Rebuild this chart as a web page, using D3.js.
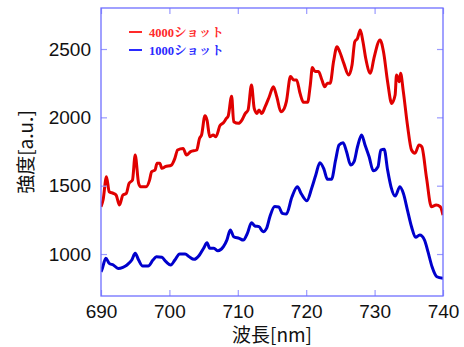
<!DOCTYPE html>
<html><head><meta charset="utf-8">
<script src="https://cdn.jsdelivr.net/npm/d3@7"></script>
<style>html,body{margin:0;padding:0;background:#fff;}</style>
</head><body>
<svg id="chart" width="464" height="347"></svg>
<script>
const xTicks = [690, 700, 710, 720, 730, 740];
const yTicks = [1000, 1500, 2000, 2500];
const seriesNames = ["4000ショット", "1000ショット"];
const xTitle = "波長[nm]";
const yTitle = "強度[a.u.]";

const redWavelength = [690,690.3,690.8,691.2,691.8,692.2,692.7,693.2,693.7,694.1,694.6,695.0,695.5,695.8,696.6,697.1,697.4,697.9,698.2,698.6,698.9,699.4,700.3,700.8,701.2,702.0,702.5,703.1,704.0,704.4,704.7,705.2,705.5,705.9,706.4,706.8,707.4,707.9,708.3,708.6,709.1,709.4,710.1,710.6,711.1,711.5,712.0,712.4,712.8,713.1,713.5,714.0,714.6,715.2,715.7,716.3,716.8,717.1,717.7,718.2,718.6,719.1,719.6,720.2,720.6,720.9,721.3,721.8,722.3,722.7,723.1,723.5,724.0,724.5,724.9,725.5,726.2,726.7,727.1,727.5,727.9,728.3,728.7,729.4,729.9,730.8,731.3,731.9,732.5,733.0,733.2,733.6,733.8,734.2,734.8,735.4,735.9,736.5,736.9,737.6,738.3,739.0,739.6,740];
const redIntensity = [1346,1395,1566,1456,1444,1432,1358,1432,1444,1517,1541,1724,1517,1492,1492,1541,1602,1615,1664,1664,1627,1639,1651,1700,1761,1773,1724,1749,1761,1846,1871,2012,1980,1858,1871,1858,1940,1960,1990,2010,2155,1968,1956,1980,2029,2054,2237,2066,2029,2054,2029,2078,2151,2224,2151,2041,2066,2115,2298,2273,2273,2176,2110,2110,2237,2364,2335,2335,2273,2224,2249,2249,2408,2517,2480,2395,2310,2383,2553,2578,2639,2553,2432,2322,2432,2566,2480,2261,2102,2163,2310,2261,2322,2188,1944,1761,1737,1798,1785,1554,1346,1358,1346,1285];

const blueWavelength = [690,690.2,690.7,691.2,691.8,692.5,693.2,693.8,694.5,695.0,695.5,696.1,696.9,697.6,698.1,698.9,699.5,700.2,700.8,701.5,702.3,702.9,703.6,704.4,705.0,705.5,705.9,706.5,707.1,707.9,708.4,708.9,709.4,710.2,710.8,711.4,712.0,712.5,713.1,713.7,714.2,714.7,715.4,716.0,716.5,717.1,717.9,718.7,719.3,720.1,720.8,721.4,722.0,722.6,723.1,723.7,724.3,724.8,725.4,725.9,726.5,727.0,727.5,728.1,728.6,729.2,729.8,730.5,730.9,731.4,731.9,732.4,733.0,733.7,734.2,734.8,735.4,736.0,736.6,737.3,737.8,738.4,739.1,740];
const blueIntensity = [870,895,969,932,920,895,903,920,956,1005,956,912,912,956,980,976,944,920,956,1000,1000,980,961,993,1042,1083,1042,1042,1024,1054,1102,1176,1127,1115,1102,1151,1229,1205,1200,1163,1188,1275,1348,1344,1298,1293,1415,1492,1439,1390,1481,1578,1668,1620,1547,1547,1688,1798,1815,1749,1651,1676,1785,1871,1798,1712,1609,1639,1761,1766,1615,1492,1424,1492,1444,1322,1200,1122,1139,1102,1017,907,834,822];

const svg = d3.select("#chart");
const L = 101, R = 443, T = 8, B = 296;
const x = d3.scaleLinear().domain([690, 740]).range([L, R]);
const y = d3.scaleLinear().domain([693, 2800]).range([B, T]);
const frameColor = "#6f6fff";
const tickFont = "'Liberation Sans', Arial, sans-serif";

const series = [
  {name: seriesNames[0], color: "#e00000", legendColor: "#ff2a2a", xs: redWavelength, ys: redIntensity},
  {name: seriesNames[1], color: "#0000cc", legendColor: "#2a2aff", xs: blueWavelength, ys: blueIntensity}
];

svg.append("clipPath").attr("id", "clip").append("rect")
  .attr("x", L).attr("y", T).attr("width", R - L).attr("height", B - T);

const line = d3.line().x(d => x(d[0])).y(d => y(d[1])).curve(d3.curveMonotoneX);
series.forEach(s => {
  const pts = s.xs.map((v, i) => [v, s.ys[i]]);
  svg.append("path").datum(pts)
    .attr("d", line)
    .attr("fill", "none")
    .attr("stroke", s.color)
    .attr("stroke-width", 3)
    .attr("stroke-linejoin", "round")
    .attr("clip-path", "url(#clip)");
});

// axes
const tl = 6;
const fmt = d3.format("d");
const gB = svg.append("g").attr("transform", `translate(0,${B})`)
  .call(d3.axisBottom(x).tickValues(xTicks).tickFormat(fmt).tickSizeInner(-tl).tickSizeOuter(0).tickPadding(8));
const gT = svg.append("g").attr("transform", `translate(0,${T})`)
  .call(d3.axisTop(x).tickValues(xTicks).tickSizeInner(-tl).tickSizeOuter(0).tickFormat(""));
const gL = svg.append("g").attr("transform", `translate(${L},0)`)
  .call(d3.axisLeft(y).tickValues(yTicks).tickFormat(fmt).tickSizeInner(-tl).tickSizeOuter(0).tickPadding(10));
const gR = svg.append("g").attr("transform", `translate(${R},0)`)
  .call(d3.axisRight(y).tickValues(yTicks).tickSizeInner(-tl).tickSizeOuter(0).tickFormat(""));
[gB, gT, gL, gR].forEach(g => {
  g.select(".domain").remove();
  g.selectAll(".tick line").attr("stroke", "#9a9aff").attr("stroke-width", 1.2);
  g.selectAll(".tick text").attr("fill", "#111").style("font-family", tickFont).style("font-size", "19px");
});
gB.selectAll(".tick text").attr("dy", "0.72em");

svg.append("rect").attr("x", L).attr("y", T).attr("width", R - L).attr("height", B - T)
  .attr("fill", "none").attr("stroke", frameColor).attr("stroke-width", 1.3);

// titles
svg.append("text").attr("x", (L + R) / 2).attr("y", 342).attr("text-anchor", "middle")
  .style("font-family", "'Noto Sans CJK JP', sans-serif").style("font-size", "19px").attr("fill", "#111")
  .text(xTitle);
svg.append("text").attr("transform", `translate(33,${(T + B) / 2}) rotate(-90)`).attr("text-anchor", "middle")
  .style("font-family", "'Noto Sans CJK JP', sans-serif").style("font-size", "19px").attr("fill", "#111")
  .text(yTitle);

// legend
series.forEach((s, i) => {
  const ly = 32 + i * 18;
  svg.append("line").attr("x1", 129).attr("x2", 142).attr("y1", ly).attr("y2", ly)
    .attr("stroke", s.legendColor).attr("stroke-width", 2);
  svg.append("text").attr("x", 149).attr("y", ly).attr("dy", "0.36em")
    .style("font-family", "'Liberation Serif', 'Noto Serif CJK JP', serif").style("font-weight", "bold")
    .style("font-size", "12.5px").attr("fill", s.legendColor).text(s.name);
});
</script>
</body></html>
